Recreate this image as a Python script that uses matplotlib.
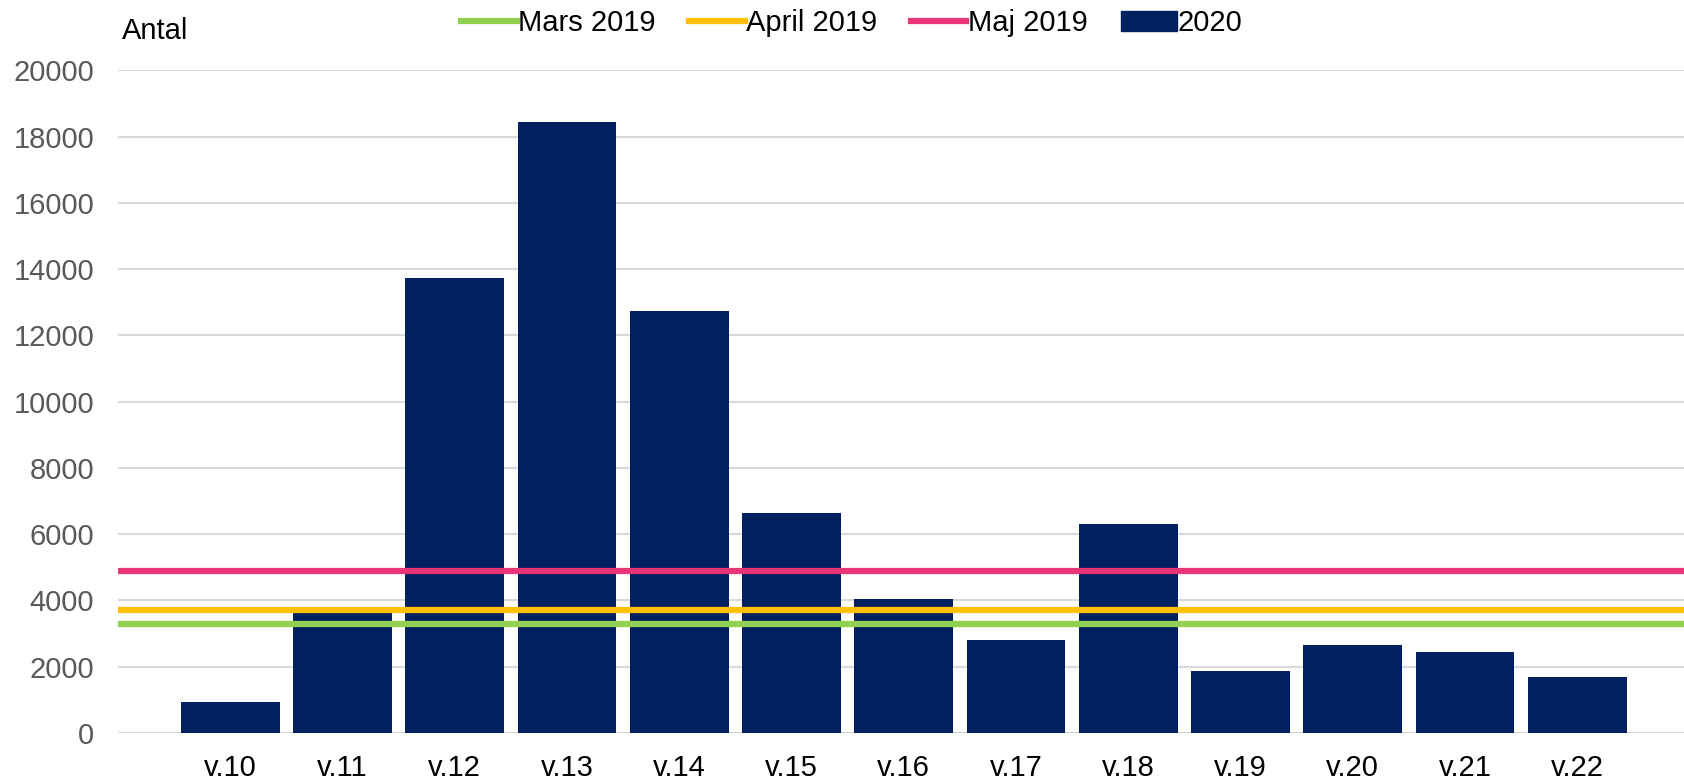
import numpy as np
import matplotlib
matplotlib.use("Agg")
import matplotlib.pyplot as plt
from matplotlib.lines import Line2D
from matplotlib.patches import Patch

weeks = ["v.10", "v.11", "v.12", "v.13", "v.14", "v.15", "v.16",
         "v.17", "v.18", "v.19", "v.20", "v.21", "v.22"]
antal_2020 = [920, 3780, 13720, 18450, 12750, 6630, 4040,
              2810, 6310, 1870, 2640, 2440, 1700]
ref_names = ["Mars 2019", "April 2019", "Maj 2019"]
ref_values = [3300, 3700, 4880]
ref_colors = ["#92d050", "#ffc000", "#e83578"]
bar_color = "#002060"

plt.rcParams["font.family"] = ["Liberation Sans", "DejaVu Sans"]
fs = 21

fig = plt.figure(figsize=(16.84, 7.81), dpi=100)
ax = fig.add_axes([0.070, 0.0615, 0.930, 0.8485])

x = np.arange(len(weeks))
ax.bar(x, antal_2020, width=0.88, color=bar_color, zorder=2)
for v, c in zip(ref_values, ref_colors):
    ax.axhline(v, color=c, lw=4.5, zorder=3)

ax.set_xlim(-1.0, len(weeks) - 0.05)
ax.set_ylim(0, 20000)
ax.set_yticks(np.arange(0, 20001, 2000))
ax.set_xticks(x)
ax.set_xticklabels(weeks)
ax.yaxis.grid(True, color="#d9d9d9", lw=1.5, zorder=0)
ax.set_axisbelow(True)
for s in ax.spines.values():
    s.set_visible(False)
ax.tick_params(axis="both", length=0, labelsize=fs)
ax.tick_params(axis="y", colors="#595959", pad=17)
ax.tick_params(axis="x", colors="black", pad=15)

fig.text(0.0725, 0.960, "Antal", fontsize=fs, va="center", ha="left")

handles = [Line2D([0], [0], color=c, lw=4.5) for c in ref_colors]
handles.append(Patch(color=bar_color))
fig.legend(handles, ref_names + ["2020"], loc="center", bbox_to_anchor=(0.506, 0.970),
           ncol=4, frameon=False, fontsize=fs, handlelength=1.9, handletextpad=0.05,
           columnspacing=1.15)

fig.savefig("out.png", dpi=100)
